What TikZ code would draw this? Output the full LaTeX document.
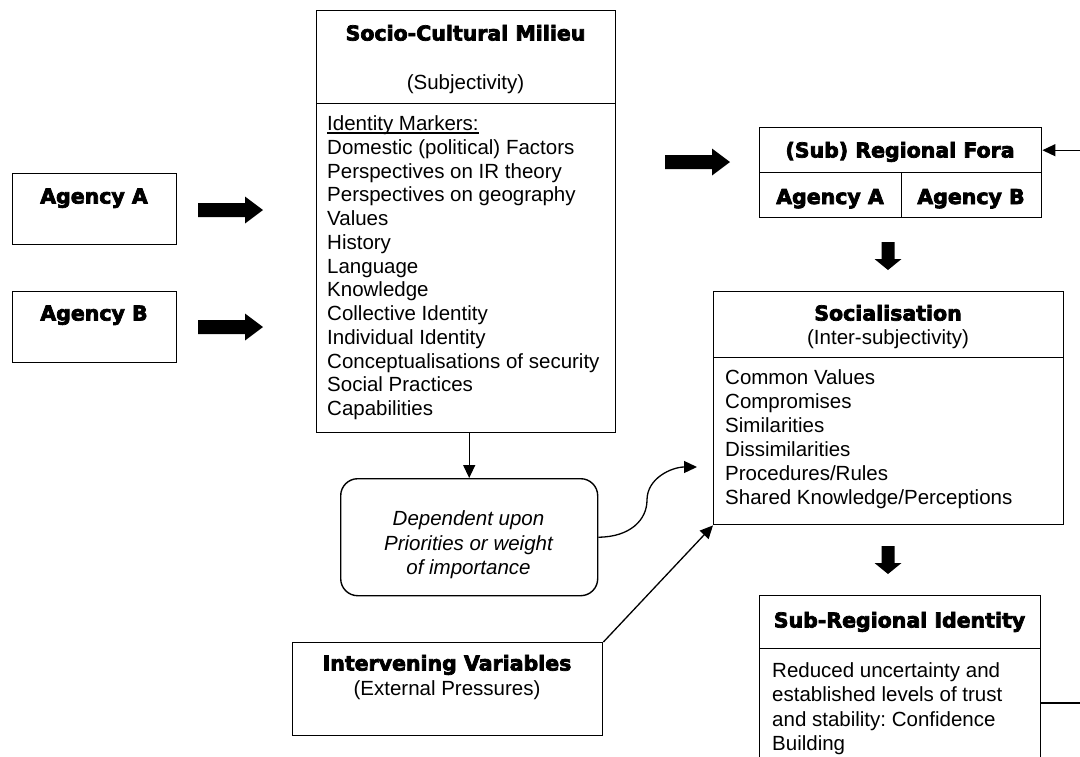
\documentclass[tikz,border=0pt]{standalone}
\usepackage{fontspec}
\setmainfont{Liberation Sans}
\newfontfamily\heavyfont{DejaVu Sans}[BoldFeatures={FakeBold=3.5}]
\usetikzlibrary{arrows.meta}
\frenchspacing
% underline drawn as a rule of chosen thickness and depth
\newcommand\markerline[1]{\setbox0\hbox{#1}\rlap{\rule[-3.5pt]{\wd0}{1.6pt}}\box0}
\begin{document}
\begin{tikzpicture}[x=1pt,y=-1pt,
  frame/.style={draw, line width=1.4pt, rectangle, inner sep=0pt, anchor=north west},
  heavy/.style={font=\heavyfont\bfseries\fontsize{20.5}{24}\selectfont, inner sep=0pt, anchor=base},
  plain/.style={font=\fontsize{20.5}{24}\selectfont, inner sep=0pt, anchor=base},
  listline/.style={plain, anchor=base west},
  link/.style={line width=1.3pt, -{Triangle[length=13pt,width=12pt]}},
  rblock/.pic={\fill (0,-7) -- (47,-7) -- (47,-13.5) -- (65,0) -- (47,13.5) -- (47,7) -- (0,7) -- cycle;},
  dblock/.pic={\fill (-6.5,0) -- (-6.5,17) -- (-13.5,17) -- (0,28) -- (13.5,17) -- (6.5,17) -- (6.5,0) -- cycle;}
]
\useasboundingbox (0,0) rectangle (1080,756);
\fill[white] (0,0) rectangle (1080,756);
\clip (0,0) rectangle (1080,756);

% the two agencies
\node[frame, minimum width=164, minimum height=71] (agA) at (12,173) {};
\node[frame, minimum width=164, minimum height=71] (agB) at (12,291) {};
\node[heavy] (agAtext) at (94,203.5) {Agency A};
\node[heavy] (agBtext) at (94,320.5) {Agency B};
\pic at (198,210) {rblock};
\pic at (198,327) {rblock};

% socio-cultural milieu
\node[frame, minimum width=299, minimum height=93] (socioHead) at (316,10) {};
\node[frame, minimum width=299, minimum height=329] (socioBody) at (316,103) {};
\node[heavy] (socioTitle) at (465.5,40.5) {Socio-Cultural Milieu};
\node[plain] (socioSub) at (465.5,89.5) {(Subjectivity)};
\foreach \txt [count=\i from 0] in {{\markerline{Identity Markers:}},
    Domestic (political) Factors, Perspectives on IR theory,
    Perspectives on geography, Values, History, Language, Knowledge,
    Collective Identity, Individual Identity,
    Conceptualisations of security, Social Practices, Capabilities}
  \node[listline] (marker\i) at (327,130.5+23.75*\i) {\txt};

% regional fora
\pic at (665,162) {rblock};
\node[frame, minimum width=282, minimum height=45] (foraTop) at (759,127) {};
\node[frame, minimum width=142, minimum height=45] (foraA) at (759,172) {};
\node[frame, minimum width=140, minimum height=45] (foraB) at (901,172) {};
\node[heavy] (foraTitle) at (900,157.5) {(Sub) Regional Fora};
\node[heavy] (foraAtext) at (830,204) {Agency A};
\node[heavy] (foraBtext) at (971,204) {Agency B};
\pic at (888,242) {dblock};

% socialisation
\node[frame, minimum width=350, minimum height=66] (socHead) at (713,291) {};
\node[frame, minimum width=350, minimum height=167] (socBody) at (713,357) {};
\node[heavy] (socTitle) at (888,320.5) {Socialisation};
\node[plain] (socSub) at (888,344.5) {(Inter-subjectivity)};
\foreach \txt [count=\i from 0] in {Common Values, Compromises, Similarities,
    Dissimilarities, Procedures/Rules, Shared Knowledge/Perceptions}
  \node[listline] (shared\i) at (725,384.5+24*\i) {\txt};
\pic at (888,546) {dblock};

% sub-regional identity
\node[frame, minimum width=281, minimum height=53] (subHead) at (759,595) {};
\node[frame, minimum width=281, minimum height=130] (subBody) at (759,648) {};
\node[heavy] (subTitle) at (899.5,627.5) {Sub-Regional Identity};
\foreach \txt [count=\i from 0] in {Reduced uncertainty and,
    established levels of trust, and stability: Confidence, Building}
  \node[listline] (trust\i) at (772,677.5+24.3*\i) {\txt};

% weighting
\node[frame, rounded corners=17pt, minimum width=257, minimum height=117] (depend) at (340,478) {};
\foreach \txt [count=\i from 0] in {Dependent upon, Priorities or weight, of importance}
  \node[plain, font=\itshape\fontsize{20.5}{24}\selectfont] (weight\i) at (468.5,525.5+24.5*\i) {\txt};

% intervening variables
\node[frame, minimum width=310, minimum height=93] (interv) at (292,642) {};
\node[heavy] (intervTitle) at (447,670.5) {Intervening Variables};
\node[plain] (intervSub) at (447,695.5) {(External Pressures)};

% connectors
\draw[link] (depend.north |- socioBody.south) -- (depend.north);
\coordinate (curveEnd) at (697,467);
\draw[link] (depend.east) .. controls (630,537) and (647,520) .. (647,500)
  .. controls (647,478) and (672,467) .. (curveEnd);
\draw[link] (interv.north east) -- (socBody.south west);
\coordinate (loopTurn) at (1100,703);
\draw[link] (loopTurn -| subBody.east) -- (loopTurn) -- (loopTurn |- foraTop.east) -- (foraTop.east);
\end{tikzpicture}
\end{document}
